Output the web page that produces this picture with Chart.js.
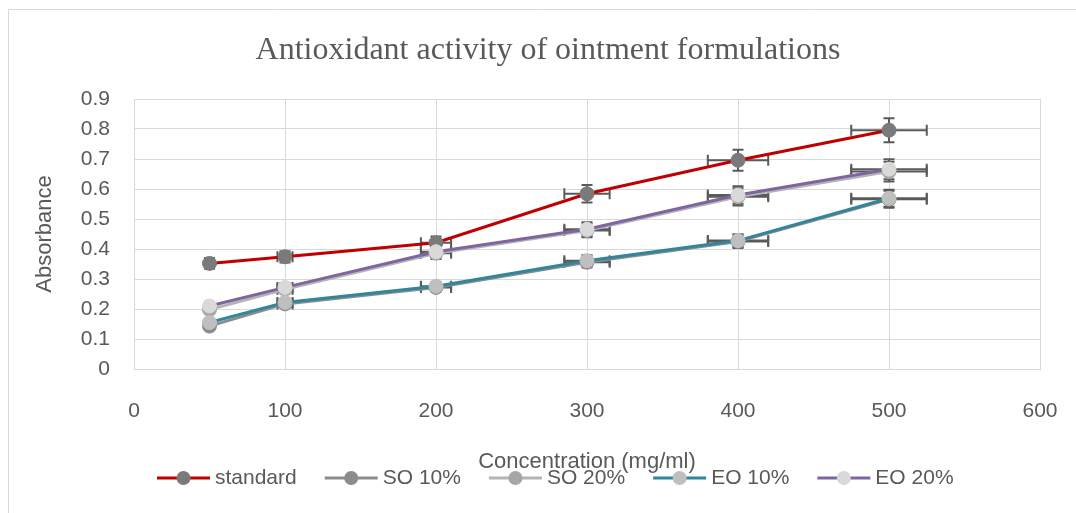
<!DOCTYPE html>
<html>
<head>
<meta charset="utf-8">
<script src="https://cdn.jsdelivr.net/npm/chart.js@4/dist/chart.umd.min.js"></script>
<style>
html,body{margin:0;padding:0;background:#ffffff;}
#wrap{width:1076px;height:513px;position:relative;}
</style>
</head>
<body>
<div id="wrap"><canvas id="c" width="1076" height="513"></canvas></div>
<script>
// ---- data ----
const concentrations = [50, 100, 200, 300, 400, 500];
const seriesNames = ['standard', 'SO 10%', 'SO 20%', 'EO 10%', 'EO 20%'];
const standardValues = [0.352, 0.374, 0.421, 0.584, 0.696, 0.796];
const so10Values = [0.143, 0.217, 0.272, 0.356, 0.425, 0.566];
const so20Values = [0.198, 0.266, 0.386, 0.462, 0.574, 0.658];
const eo10Values = [0.155, 0.222, 0.276, 0.361, 0.428, 0.569];
const eo20Values = [0.210, 0.272, 0.391, 0.466, 0.580, 0.666];
const errorPercent = 5; // percentage error bars (x and y)
const xTickValues = [0, 100, 200, 300, 400, 500, 600];
const yTickValues = [0, 0.1, 0.2, 0.3, 0.4, 0.5, 0.6, 0.7, 0.8, 0.9];
const chartTitle = 'Antioxidant activity of ointment formulations';
const xTitle = 'Concentration (mg/ml)';
const yTitle = 'Absorbance';

// ---- styles ----
const lineColors = ['#c00000', '#8c8c8c', '#b4b4b4', '#31859c', '#8064a2'];
const markerColors = ['#7a7a7a', '#8c8c8c', '#a6a6a6', '#bfbfbf', '#d9d9d9'];
const textColor = '#595959';
const gridColor = '#d9d9d9';
const sansFont = "'Liberation Sans', Arial, sans-serif";

const allValues = [standardValues, so10Values, so20Values, eo10Values, eo20Values];

const datasets = seriesNames.map((name, i) => ({
  label: name,
  data: concentrations.map((c, j) => ({ x: c, y: allValues[i][j] })),
  borderColor: lineColors[i],
  backgroundColor: markerColors[i],
  pointBackgroundColor: markerColors[i],
  pointBorderColor: markerColors[i],
  pointBorderWidth: 1,
  pointRadius: 7,
  borderWidth: 3,
  tension: 0,
  fill: false,
  order: seriesNames.length - i
}));

const framePlugin = {
  id: 'frame',
  beforeDraw(chart) {
    const ctx = chart.ctx;
    ctx.save();
    ctx.fillStyle = '#ffffff';
    ctx.fillRect(0, 0, chart.width, chart.height);
    ctx.strokeStyle = gridColor;
    ctx.lineWidth = 1;
    ctx.beginPath();
    ctx.moveTo(8.5, chart.height);
    ctx.lineTo(8.5, 9.5);
    ctx.lineTo(chart.width, 9.5);
    ctx.stroke();
    ctx.restore();
  }
};

const errorBarPlugin = {
  id: 'errorBars',
  beforeDatasetsDraw(chart) {
    const ctx = chart.ctx;
    const xs = chart.scales.x, ys = chart.scales.y;
    const f = errorPercent / 100;
    const cap = 5.5;
    ctx.save();
    ctx.strokeStyle = '#5a5a5a';
    ctx.lineWidth = 2;
    chart.data.datasets.forEach(ds => {
      ds.data.forEach(p => {
        const px = xs.getPixelForValue(p.x);
        const py = ys.getPixelForValue(p.y);
        const xl = xs.getPixelForValue(p.x * (1 - f));
        const xr = xs.getPixelForValue(p.x * (1 + f));
        const yt = ys.getPixelForValue(p.y * (1 + f));
        const yb = ys.getPixelForValue(p.y * (1 - f));
        ctx.beginPath();
        ctx.moveTo(xl, py); ctx.lineTo(xr, py);
        ctx.moveTo(xl, py - cap); ctx.lineTo(xl, py + cap);
        ctx.moveTo(xr, py - cap); ctx.lineTo(xr, py + cap);
        ctx.moveTo(px, yt); ctx.lineTo(px, yb);
        ctx.moveTo(px - cap, yt); ctx.lineTo(px + cap, yt);
        ctx.moveTo(px - cap, yb); ctx.lineTo(px + cap, yb);
        ctx.stroke();
      });
    });
    ctx.restore();
  }
};

const legendPlugin = {
  id: 'customLegend',
  afterDraw(chart) {
    const ctx = chart.ctx;
    ctx.save();
    ctx.font = '21px ' + sansFont;
    ctx.textBaseline = 'middle';
    ctx.textAlign = 'left';
    const lineLen = 53, gapText = 5, gapItem = 28;
    const y = 478;
    let x = 157;
    chart.data.datasets.forEach((ds, i) => {
      ctx.strokeStyle = ds.borderColor;
      ctx.lineWidth = 3;
      ctx.beginPath();
      ctx.moveTo(x, y); ctx.lineTo(x + lineLen, y);
      ctx.stroke();
      ctx.fillStyle = ds.pointBackgroundColor;
      ctx.beginPath();
      ctx.arc(x + lineLen / 2, y, 7, 0, Math.PI * 2);
      ctx.fill();
      ctx.fillStyle = textColor;
      const tx = x + lineLen + gapText;
      ctx.fillText(ds.label, tx, y);
      x = tx + ctx.measureText(ds.label).width + gapItem;
    });
    ctx.restore();
  }
};

new Chart(document.getElementById('c'), {
  type: 'line',
  data: { datasets },
  options: {
    responsive: false,
    animation: false,
    devicePixelRatio: 1,
    events: [],
    layout: { padding: { left: 20, right: 0, top: 0, bottom: 0 } },
    plugins: {
      legend: { display: false },
      tooltip: { enabled: false },
      title: {
        display: true,
        text: chartTitle,
        color: textColor,
        font: { family: "'Liberation Serif', 'Times New Roman', serif", size: 32, weight: 'normal', lineHeight: 1.2 },
        padding: { top: 31, bottom: 29.6 }
      }
    },
    scales: {
      x: {
        type: 'linear',
        min: 0, max: 600,
        afterBuildTicks(scale) { scale.ticks = xTickValues.map(v => ({ value: v })); },
        afterFit(scale) { scale.height = 144; scale.paddingLeft = 0; scale.paddingRight = 0; },
        ticks: {
          color: textColor,
          font: { family: sansFont, size: 21 },
          padding: 30,
          maxRotation: 0,
          callback: v => String(v)
        },
        grid: { color: gridColor, lineWidth: 1, drawTicks: false },
        border: { color: gridColor, width: 1 },
        title: {
          display: true,
          text: xTitle,
          color: textColor,
          font: { family: sansFont, size: 22, lineHeight: 1.2 },
          padding: { top: 38, bottom: 38 }
        }
      },
      y: {
        type: 'linear',
        min: 0, max: 0.9,
        afterBuildTicks(scale) { scale.ticks = yTickValues.map(v => ({ value: v })); },
        afterFit(scale) { scale.width = 114; scale.paddingTop = 0; scale.paddingBottom = 0; },
        ticks: {
          color: textColor,
          font: { family: sansFont, size: 21 },
          padding: 24,
          callback: v => (Math.round(v * 10) / 10).toString()
        },
        grid: { color: gridColor, lineWidth: 1, drawTicks: false },
        border: { color: gridColor, width: 1 },
        title: {
          display: true,
          text: yTitle,
          color: textColor,
          font: { family: sansFont, size: 22, lineHeight: 1.2 },
          padding: { top: 12, bottom: 12 }
        }
      },
      yRight: {
        type: 'linear',
        position: 'right',
        display: true,
        min: 0, max: 0.9,
        afterFit(scale) { scale.width = 36; scale.paddingTop = 0; scale.paddingBottom = 0; },
        ticks: { display: false },
        grid: { display: false, drawTicks: false },
        border: { display: false }
      }
    }
  },
  plugins: [framePlugin, errorBarPlugin, legendPlugin]
});
</script>
</body>
</html>
